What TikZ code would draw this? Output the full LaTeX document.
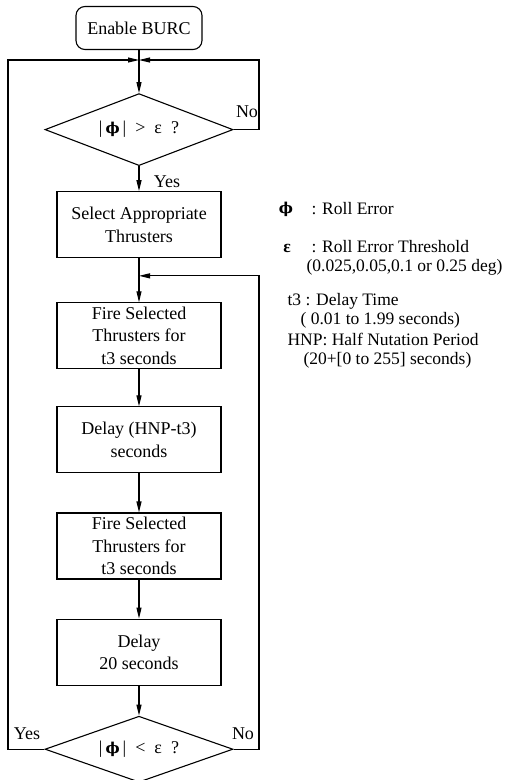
\documentclass[tikz,border=0pt]{standalone}
\usepackage{fontspec}
\setmainfont{Liberation Serif}
\newfontfamily\symfont{DejaVu Serif}
\usetikzlibrary{
    arrows.meta,      % For arrow tips
    calc,             % For the point between two steps
    positioning,      % For relative placement of the steps
    shapes.geometric  % For the decision diamonds
}
\newcommand{\boxfont}{\fontsize{18}{22.5}\selectfont}
\newcommand{\legfont}{\fontsize{17.5}{19}\selectfont}
\newcommand{\rollphi}{{\symfont\bfseries\fontsize{15}{15}\selectfont ϕ}}

\begin{document}
\begin{tikzpicture}[
    x=1pt, y=-1pt,
    >={Triangle[length=11pt,width=5pt]}, % Set default arrow tip style
    line width=1.1pt,
    % Style for the process steps
    stepbox/.style={draw, minimum width=164pt, minimum height=66pt,
        align=center, inner sep=2pt, font=\boxfont},
    % Style for the yes/no tests
    test/.style={draw, diamond, aspect=2.55, minimum width=188pt,
        minimum height=72pt, inner sep=0pt, font=\boxfont},
    % Style for the key on the right
    legend/.style={anchor=base west, inner sep=0pt, font=\legfont}
]
    \useasboundingbox (0,0) rectangle (519,780);

    % Start of the loop
    \node[draw, rounded corners=9pt, minimum width=126pt, minimum height=43pt,
        font=\boxfont] (start) at (139,28) {Enable BURC};
    \coordinate (join) at (139,60);
    \coordinate (leftrail) at (8,0);
    \coordinate (rightrail) at (259,0);

    % The main column of steps
    \node[test, below=43pt of start] (testa)
        {|\,\rollphi\,|~~>~~ε~~?};
    \node[stepbox, below=25pt of testa] (select) {Select Appropriate\\Thrusters};
    \node[stepbox, below=44pt of select] (firea) {Fire Selected\\Thrusters for\\t3 seconds};
    \node[stepbox, below=37pt of firea] (delaya) {Delay (HNP-t3)\\seconds};
    \node[stepbox, below=39pt of delaya] (fireb) {Fire Selected\\Thrusters for\\t3 seconds};
    \node[stepbox, below=39pt of fireb] (delayb) {Delay\\20 seconds};
    \node[test, minimum height=66pt, below=30pt of delayb] (testb)
        {|\,\rollphi\,|~~<~~ε~~?};
    \coordinate (joinb) at ($(select.south)!0.4!(firea.north)$);

    % Straight arrows down the column
    \draw (start) -- (join);
    \draw[->] (join) -- (testa);
    \draw[->] (testa) -- (select);
    \draw (select) -- (joinb);
    \draw[->] (joinb) -- (firea);
    \draw[->] (firea) -- (delaya);
    \draw[->] (delaya) -- (fireb);
    \draw[->] (fireb) -- (delayb);
    \draw[->] (delayb) -- (testb);

    % Loops back up
    \draw[->] (testa.east) -- (testa.east -| rightrail) |- (join);
    \draw[->] (testb.west) -- (testb.west -| leftrail) |- (join);
    \draw[->] (testb.east) -- (testb.east -| rightrail) |- (joinb);

    % Branch labels
    \node[font=\boxfont, anchor=west] (yesa) at (150,182) {Yes};
    \node[font=\boxfont] (noa) at (247,112) {No};
    \node[font=\boxfont] (yesb) at (27,734) {Yes};
    \node[font=\boxfont] (nob) at (243,734) {No};

    % Key
    \node[legend, anchor=base] (symphi) at (286,213) {\rollphi};
    \node[legend] (keyphi) at (311,214) {: Roll Error};
    \node[legend, anchor=base] (symeps) at (287,252) {\textbf{ε}};
    \node[legend] (keyeps) at (311,252) {: Roll Error Threshold};
    \node[legend] (keyepsb) at (306,271) {(0.025,0.05,0.1 or 0.25 deg)};
    \node[legend] (keytt) at (287,305) {t3 : Delay Time};
    \node[legend] (keyttb) at (300,324) {( 0.01 to 1.99 seconds)};
    \node[legend] (keyhnp) at (287,345) {HNP: Half Nutation Period};
    \node[legend] (keyhnpb) at (303,364) {(20+[0 to 255] seconds)};

\end{tikzpicture}
\end{document}
